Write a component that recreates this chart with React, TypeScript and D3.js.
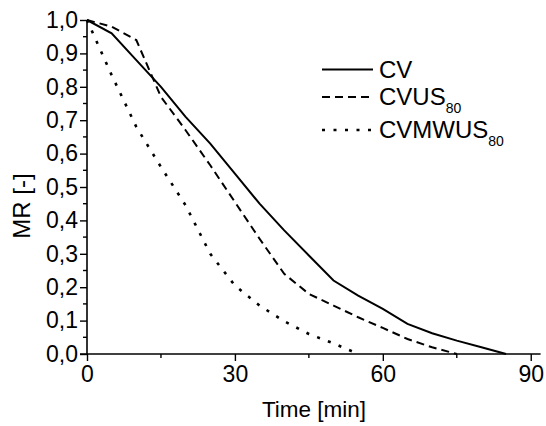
import React, { useEffect, useRef } from 'react';
import * as d3 from 'd3';

const times = [0, 5, 10, 15, 20, 25, 30, 35, 40, 45, 50, 55, 60, 65, 70, 75, 80, 85];
const cv = [1.0, 0.96, 0.88, 0.8, 0.71, 0.63, 0.54, 0.45, 0.37, 0.295, 0.22, 0.175, 0.135, 0.09, 0.062, 0.04, 0.02, 0.0];
const cvus = [1.0, 0.98, 0.94, 0.77, 0.67, 0.565, 0.455, 0.345, 0.24, 0.18, 0.145, 0.11, 0.078, 0.045, 0.02, 0.0];
const cvmwus = [1.0, 0.835, 0.68, 0.56, 0.445, 0.3, 0.205, 0.145, 0.098, 0.06, 0.032, 0.0];

const xTicks = [0, 30, 60, 90];
const xMinor = [15, 45, 75];
const yTicks = [0, 0.1, 0.2, 0.3, 0.4, 0.5, 0.6, 0.7, 0.8, 0.9, 1.0];
const yMinor = [0.05, 0.15, 0.25, 0.35, 0.45, 0.55, 0.65, 0.75, 0.85, 0.95];

const series = [
  { name: 'CV', sub: '', values: cv, dash: null },
  { name: 'CVUS', sub: '80', values: cvus, dash: '8,5' },
  { name: 'CVMWUS', sub: '80', values: cvmwus, dash: '3,8.5' },
];

const App = () => {
  const ref = useRef<SVGSVGElement>(null);
  const width = 546;
  const height = 426;

  useEffect(() => {
    const svg = d3.select(ref.current);
    svg.selectAll('*').remove();
    const font = "'Liberation Sans', Arial, sans-serif";

    const x = d3.scaleLinear().domain([0, 92]).range([87, 540.6]);
    const y = d3.scaleLinear().domain([0, 1]).range([354, 20]);

    // x axis
    const xAxis = svg.append('g')
      .attr('transform', `translate(0,${y(0)})`)
      .call(d3.axisBottom(x).tickValues(xTicks).tickSize(7).tickPadding(5).tickFormat(d3.format('d')));
    xAxis.select('.domain').attr('d', `M${x(0) - 7},0H${x(92)}`).attr('stroke-width', 1.6);
    xAxis.selectAll('.tick line').attr('stroke-width', 1.4);
    xAxis.selectAll('text').attr('font-size', 23).attr('font-family', font).attr('fill', '#000');
    xAxis.selectAll('.minor')
      .data(xMinor).enter().append('line')
      .attr('x1', d => x(d)).attr('x2', d => x(d))
      .attr('y1', 0).attr('y2', 4)
      .attr('stroke', '#000').attr('stroke-width', 1.4);

    // y axis
    const yAxis = svg.append('g')
      .attr('transform', `translate(${x(0)},0)`)
      .call(d3.axisLeft(y).tickValues(yTicks).tickSize(7).tickPadding(2)
        .tickFormat(d => d3.format('.1f')(d as number).replace('.', ',')));
    yAxis.select('.domain').attr('d', `M0,${y(0)}V${y(1)}`).attr('stroke-width', 1.6);
    yAxis.selectAll('.tick line').attr('stroke-width', 1.4);
    yAxis.selectAll('text').attr('font-size', 23).attr('font-family', font).attr('fill', '#000');
    yAxis.selectAll('.minor')
      .data(yMinor).enter().append('line')
      .attr('x1', 0).attr('x2', -4)
      .attr('y1', d => y(d)).attr('y2', d => y(d))
      .attr('stroke', '#000').attr('stroke-width', 1.4);

    // axis titles
    svg.append('text')
      .attr('x', 314).attr('y', 417)
      .attr('text-anchor', 'middle')
      .attr('font-size', 22.5).attr('font-family', font)
      .text('Time [min]');

    svg.append('text')
      .attr('transform', `translate(30,206) rotate(-90)`)
      .attr('text-anchor', 'middle')
      .attr('font-size', 24).attr('font-family', font)
      .text('MR [-]');

    // curves
    const line = d3.line<[number, number]>()
      .x(d => x(d[0]))
      .y(d => y(d[1]));

    series.forEach(s => {
      const pts = s.values.map((v, i) => [times[i], v] as [number, number]);
      svg.append('path')
        .attr('d', line(pts))
        .attr('fill', 'none')
        .attr('stroke', '#000')
        .attr('stroke-width', s.dash === '3,8.5' ? 2.6 : 2)
        .attr('stroke-dasharray', s.dash);
    });

    // legend
    const rowY = [69.5, 97, 130];
    const legend = svg.append('g');
    series.forEach((s, i) => {
      legend.append('line')
        .attr('x1', 322).attr('x2', 373)
        .attr('y1', rowY[i]).attr('y2', rowY[i])
        .attr('stroke', '#000')
        .attr('stroke-width', s.dash === '3,8.5' ? 2.6 : 2)
        .attr('stroke-dasharray', s.dash);
      const t = legend.append('text')
        .attr('x', 379).attr('y', rowY[i] + 8)
        .attr('font-size', 24).attr('font-family', font);
      t.append('tspan').text(s.name);
      if (s.sub) {
        t.append('tspan').attr('font-size', 14).attr('dy', 8).text(s.sub);
      }
    });
  }, []);

  return (
    <svg
      ref={ref}
      width={width}
      height={height}
      viewBox={`0 0 ${width} ${height}`}
      style={{ position: 'absolute', left: 0, top: 0, background: '#fff' }}
    />
  );
};

export default App;
